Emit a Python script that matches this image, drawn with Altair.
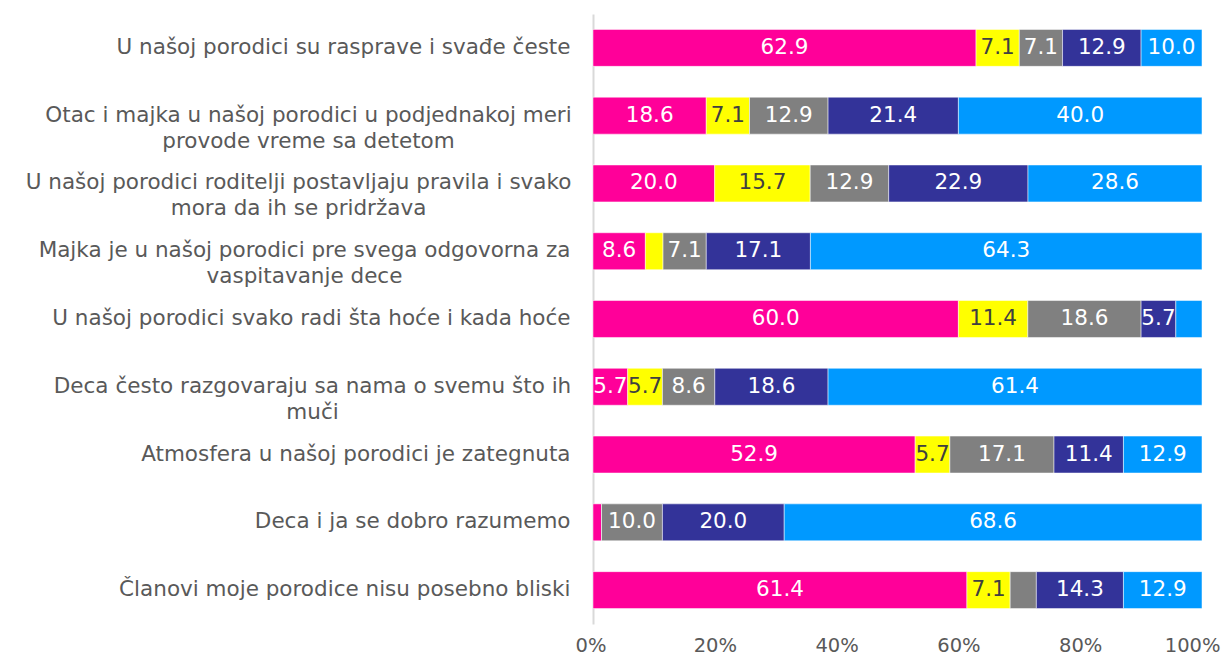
import altair as alt
import pandas as pd

categories = [
    "U našoj porodici su rasprave i svađe česte",
    "Otac i majka u našoj porodici u podjednakoj meri\nprovode vreme sa detetom",
    "U našoj porodici roditelji postavljaju pravila i svako\nmora da ih se pridržava",
    "Majka je u našoj porodici pre svega odgovorna za\nvaspitavanje dece",
    "U našoj porodici svako radi šta hoće i kada hoće",
    "Deca često razgovaraju sa nama o svemu što ih\nmuči",
    "Atmosfera u našoj porodici je zategnuta",
    "Deca i ja se dobro razumemo",
    "Članovi moje porodice nisu posebno bliski",
]
series_names = ["1", "2", "3", "4", "5"]
series_colors = ["#FF0099", "#FFFF00", "#808080", "#333399", "#0099FF"]
s1 = [62.9, 18.6, 20.0, 8.6, 60.0, 5.7, 52.9, 1.4, 61.4]
s2 = [7.1, 7.1, 15.7, 2.9, 11.4, 5.7, 5.7, 0.0, 7.1]
s3 = [7.1, 12.9, 12.9, 7.1, 18.6, 8.6, 17.1, 10.0, 4.3]
s4 = [12.9, 21.4, 22.9, 17.1, 5.7, 18.6, 11.4, 20.0, 14.3]
s5 = [10.0, 40.0, 28.6, 64.3, 4.3, 61.4, 12.9, 68.6, 12.9]
x_ticks = [0, 0.2, 0.4, 0.6, 0.8, 1.0]

FONT = "DejaVu Sans"
TXT = "#595959"
FS = 21.5

rows = []
for i, c in enumerate(categories):
    for j, (name, vals) in enumerate(zip(series_names, [s1, s2, s3, s4, s5])):
        rows.append({"category": c, "series": name, "order": j, "value": vals[i]})
df = pd.DataFrame(rows)

base = alt.Chart(df).transform_stack(
    stack="value",
    groupby=["category"],
    as_=["x0", "x1"],
    offset="normalize",
    sort=[alt.SortField("order", "ascending")],
).transform_calculate(mid="(datum.x0 + datum.x1) / 2")

y_enc = alt.Y(
    "category:N",
    sort=categories,
    scale=alt.Scale(paddingInner=0.455, paddingOuter=0.2275),
    axis=alt.Axis(
        title=None,
        ticks=False,
        domain=True,
        domainColor="#d9d9d9",
        domainWidth=2,
        labelFont=FONT,
        labelFontSize=FS,
        labelColor=TXT,
        labelLimit=0,
        labelLineHeight=26,
        labelExpr="split(datum.label, '\\n')",
        labelAlign={
            "condition": {"test": "indexof(datum.value, '\\n') >= 0", "value": "center"},
            "value": "right",
        },
        labelPadding={
            "condition": [
                {"test": "indexof(datum.value, 'Otac') == 0", "value": 285},
                {"test": "indexof(datum.value, 'roditelji') >= 0", "value": 295},
                {"test": "indexof(datum.value, 'Majka') == 0", "value": 289},
                {"test": "indexof(datum.value, 'Deca često') == 0", "value": 281},
            ],
            "value": 23,
        },
    ),
)

bars = base.mark_bar(stroke="white", strokeWidth=0.5).encode(
    x=alt.X(
        "x0:Q",
        scale=alt.Scale(domain=[0, 1], nice=False),
        axis=alt.Axis(
            title=None,
            format=".0%",
            values=x_ticks,
            ticks=False,
            domain=False,
            grid=False,
            labelFont=FONT,
            labelFontSize=19.5,
            labelColor=TXT,
            labelPadding=12,
            labelFlush=True,
            labelFlushOffset=18,
        ),
    ),
    x2="x1:Q",
    y=y_enc,
    color=alt.Color(
        "series:N",
        scale=alt.Scale(domain=series_names, range=series_colors),
        legend=None,
    ),
)

labels = base.transform_filter("datum.value >= 5").mark_text(
    font=FONT, fontSize=FS, baseline="middle", align="center"
).encode(
    x="mid:Q",
    y=alt.Y("category:N", sort=categories),
    text=alt.Text("value:Q", format=".1f"),
    color=alt.condition("datum.series == '2'", alt.value("#404040"), alt.value("white")),
)

chart = (
    alt.layer(bars, labels)
    .properties(
        width=609,
        height=610,
        autosize=alt.AutoSizeParams(type="none"),
        padding={"left": 585, "top": 6, "right": 22, "bottom": 32},
    )
    .configure_view(stroke=None)
)

chart.save("out.html", embed_options={"renderer": "svg", "actions": False})
